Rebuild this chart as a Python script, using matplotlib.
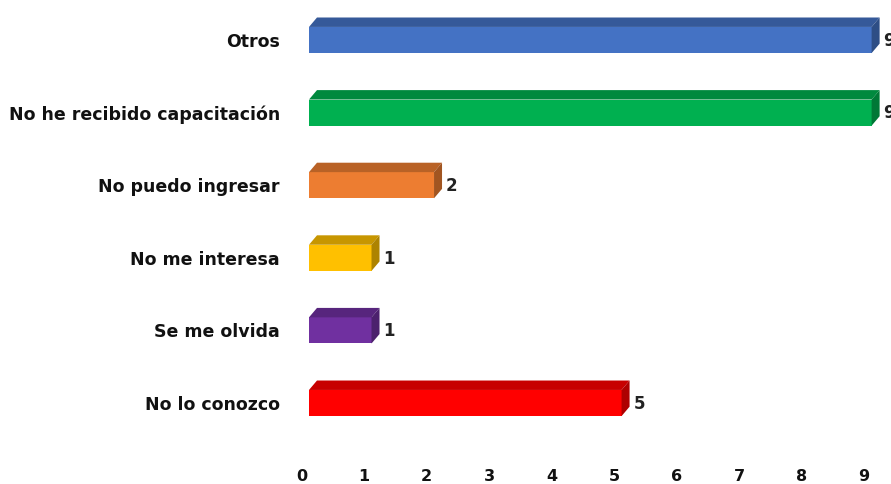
import matplotlib
matplotlib.use('Agg')
import matplotlib.pyplot as plt
from matplotlib.patches import Polygon
from matplotlib.colors import to_rgb
from matplotlib.transforms import ScaledTranslation

categories = ['No lo conozco', 'Se me olvida', 'No me interesa',
              'No puedo ingresar', 'No he recibido capacitación', 'Otros']
values = [5, 1, 1, 2, 9, 9]
colors = ['#FF0000', '#7030A0', '#FFC000', '#ED7D31', '#00B050', '#4472C4']
ticks = list(range(10))

fig = plt.figure(figsize=(8.91, 4.84), dpi=100)
ax = fig.add_axes([309 / 891, 34 / 484, 582 / 891, 450 / 484])

h = 0.36      # bar thickness
dx = 0.128    # depth offset in x
dy = 0.13     # depth offset in y


def shade(c, f):
    r, g, b = to_rgb(c)
    return (r * f, g * f, b * f)


for i, (v, c) in enumerate(zip(values, colors)):
    ax.barh(i, v, height=h, color=c, edgecolor='none', zorder=3)
    top = [(0, i + h / 2), (dx, i + h / 2 + dy), (v + dx, i + h / 2 + dy), (v, i + h / 2)]
    side = [(v, i - h / 2), (v, i + h / 2), (v + dx, i + h / 2 + dy), (v + dx, i - h / 2 + dy)]
    ax.add_patch(Polygon(top, closed=True, facecolor=shade(c, 0.78), edgecolor='none', zorder=3))
    ax.add_patch(Polygon(side, closed=True, facecolor=shade(c, 0.68), edgecolor='none', zorder=3))
    ax.text(v + dx + 0.06, i - 0.01, str(v), va='center', ha='left',
            fontsize=12, fontweight='bold', color='#222222')

ax.set_xlim(0, 9.31)
ax.set_ylim(-0.647, 5.551)
ax.set_yticks(range(len(categories)))
ax.set_yticklabels(categories, fontsize=12.5, fontweight='bold', color='#111111')
ax.set_xticks(ticks)
ax.set_xticklabels([str(t) for t in ticks], fontsize=11.5, fontweight='bold', color='#111111')
ax.tick_params(axis='both', length=0)
ax.tick_params(axis='y', pad=21)
ax.tick_params(axis='x', pad=14)
shift = ScaledTranslation(-7.5 / 100, 0, fig.dpi_scale_trans)
for lab in ax.get_xticklabels():
    lab.set_transform(lab.get_transform() + shift)
for s in ax.spines.values():
    s.set_visible(False)

fig.savefig('out.png', dpi=100)
